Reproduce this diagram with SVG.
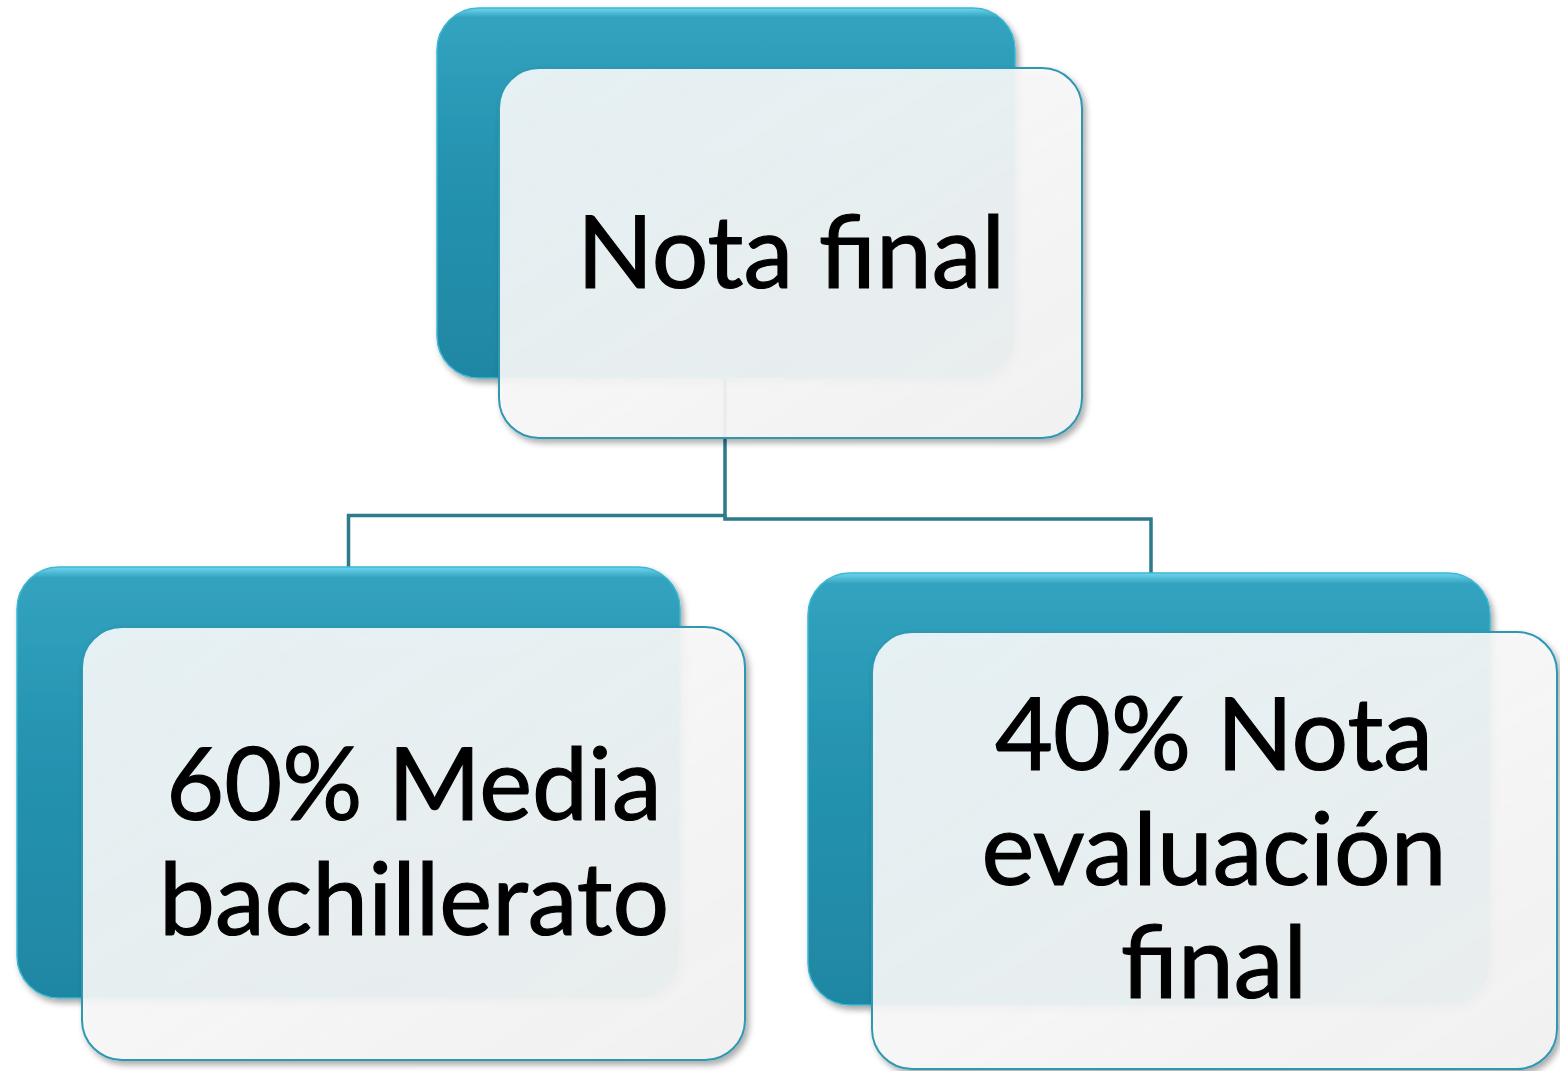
<svg xmlns="http://www.w3.org/2000/svg" width="1560" height="1071" viewBox="0 0 1560 1071">
<defs>
<linearGradient id="teal" x1="0" y1="0" x2="0" y2="1">
<stop offset="0" stop-color="#6fd6ef"/>
<stop offset="0.025" stop-color="#32a3bf"/>
<stop offset="0.4" stop-color="#2594b1"/>
<stop offset="1" stop-color="#1f87a3"/>
</linearGradient>
<linearGradient id="glass" x1="0" y1="0" x2="1" y2="1">
<stop offset="0" stop-color="#ffffff" stop-opacity="0.86"/>
<stop offset="1" stop-color="#f2f2f2" stop-opacity="0.95"/>
</linearGradient>
<filter id="sh" x="-5%" y="-5%" width="112%" height="115%">
<feDropShadow dx="3" dy="4" stdDeviation="3" flood-color="#000" flood-opacity="0.35"/>
</filter>
<style>
.back{fill:url(#teal);stroke:#3fb7d3;stroke-width:1.5;filter:url(#sh)}
.front{fill:url(#glass);stroke:#2f98b3;stroke-width:2;filter:url(#sh)}
.conn{fill:none;stroke:#2e7a8a;stroke-width:3.5}
.t{font-family:"Lato","Liberation Sans",sans-serif;font-size:100px;fill:#000;stroke:#000;stroke-width:1.2;text-anchor:middle}
</style>
</defs>
<rect width="1560" height="1071" fill="#ffffff"/>
<g id="connectors">
<path class="conn" d="M725,378 V515.5 H348.5 V567"/>
<path class="conn" d="M725,515.5 V519 H1151 V573"/>
</g>
<g id="node-top">
<rect class="back" x="437" y="8" width="578" height="370" rx="42"/>
<rect class="front" x="499" y="68" width="583" height="370" rx="40"/>
<text class="t" x="791" y="288">Nota final</text>
</g>
<g id="node-left">
<rect class="back" x="17" y="567" width="663" height="431" rx="42"/>
<rect class="front" x="82" y="627" width="663" height="433" rx="40"/>
<text class="t" x="414" y="820">60% Media</text>
<text class="t" x="414" y="935">bachillerato</text>
</g>
<g id="node-right">
<rect class="back" x="808" y="573" width="682" height="432" rx="42"/>
<rect class="front" x="872" y="632" width="685" height="437" rx="40"/>
<text class="t" x="1214" y="770">40% Nota</text>
<text class="t" x="1214" y="885">evaluación</text>
<text class="t" x="1214" y="998">final</text>
</g>
</svg>
